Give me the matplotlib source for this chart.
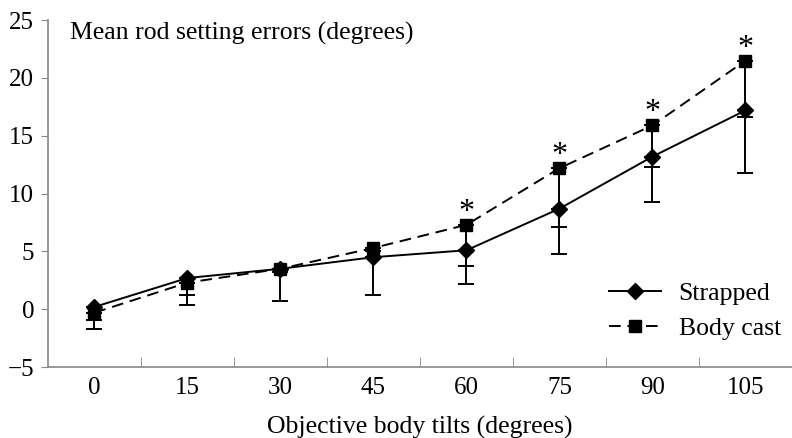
import matplotlib
matplotlib.use("Agg")
import matplotlib.pyplot as plt
import numpy as np

tilts = ["0", "15", "30", "45", "60", "75", "90", "105"]
strapped = [0.2, 2.7, 3.5, 4.5, 5.1, 8.7, 13.2, 17.2]
strapped_err = [1.1, 1.5, 0.3, 3.3, 2.9, 3.9, 3.9, 5.4]
bodycast = [-0.3, 2.3, 3.5, 5.3, 7.3, 12.2, 15.9, 21.5]
bodycast_err = [1.4, 1.9, 2.8, 0.3, 3.55, 5.1, 3.6, 4.9]
significant = [False, False, False, False, True, True, True, True]

plt.rcParams['font.family'] = ['Liberation Serif', 'DejaVu Serif']

fig = plt.figure(figsize=(7.92, 4.38), dpi=100)
ax = fig.add_axes([0.0606, 0.162, 0.9394, 0.792])

x = np.arange(len(tilts))

ax.errorbar(x, bodycast, yerr=[bodycast_err, np.zeros(len(x))], fmt='none',
            ecolor='black', elinewidth=1.4, capsize=5.5, capthick=1.4, zorder=2)
ax.errorbar(x, strapped, yerr=[strapped_err, np.zeros(len(x))], fmt='none',
            ecolor='black', elinewidth=1.4, capsize=5.5, capthick=1.4, zorder=2)

ax.plot(x, strapped, color='black', lw=1.4, marker='D', markersize=8.5,
        label='Strapped', zorder=3)
ax.plot(x, bodycast, color='black', lw=1.4, ls=(0, (6, 3.5)), marker='s',
        markersize=9, label='Body cast', zorder=3)

for xi, yi, s in zip(x, bodycast, significant):
    if s:
        ax.annotate('*', (xi, yi), xytext=(0, -1.5), textcoords='offset points',
                    ha='center', va='bottom', fontsize=23)

ax.set_xlim(-0.5, len(tilts) - 0.5)
ax.set_ylim(-5, 25)
ax.set_yticks([-5, 0, 5, 10, 15, 20, 25])
ax.set_yticklabels(['\u22125', '0', '5', '10', '15', '20', '25'])
ax.set_xticks(x)
ax.set_xticklabels(tilts)
ax.set_xticks(np.arange(0.5, len(tilts) - 0.5, 1.0), minor=True)

ax.tick_params(axis='x', which='major', length=0, pad=7, labelsize=18)
ax.tick_params(axis='x', which='minor', length=7, direction='in', color='#888888')
ax.tick_params(axis='y', which='major', length=5, direction='out', color='#888888',
               labelsize=18, pad=5)

for side in ['top', 'right']:
    ax.spines[side].set_visible(False)
for side in ['left', 'bottom']:
    ax.spines[side].set_color('#888888')
    ax.spines[side].set_linewidth(1.2)

ax.text(0.029, 0.995, 'Mean rod setting errors (degrees)', transform=ax.transAxes,
        ha='left', va='top', fontsize=18.5)
ax.set_xlabel('Objective body tilts (degrees)', fontsize=18.5)
ax.xaxis.set_label_coords(0.5, -0.14)

leg = ax.legend(loc='lower right', bbox_to_anchor=(1.016, 0.012), frameon=False,
                fontsize=18.5, handlelength=2.0, handletextpad=0.7, labelspacing=0.45)

fig.savefig('out.png', dpi=100)
